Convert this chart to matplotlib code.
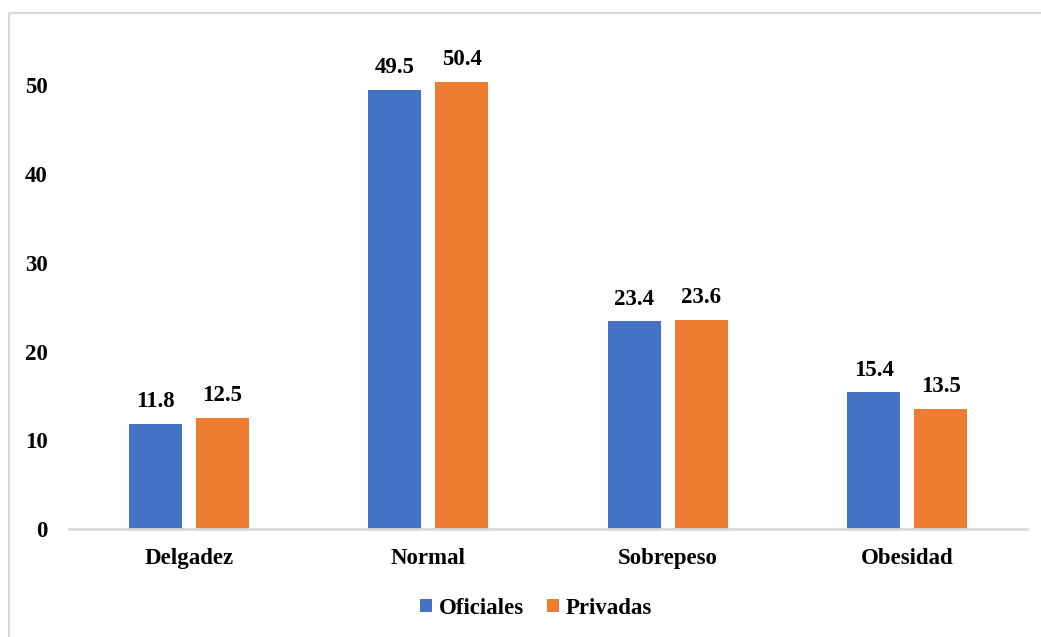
import matplotlib
matplotlib.use("Agg")
import matplotlib.pyplot as plt
from matplotlib.patches import Rectangle
import numpy as np

categories = ["Delgadez", "Normal", "Sobrepeso", "Obesidad"]
oficiales = [11.8, 49.5, 23.4, 15.4]
privadas = [12.5, 50.4, 23.6, 13.5]
yticks = [0, 10, 20, 30, 40, 50]

plt.rcParams['font.family'] = ['Liberation Serif', 'DejaVu Serif']
plt.rcParams['font.weight'] = 'bold'

W, H = 1041, 637
fig = plt.figure(figsize=(W / 100, H / 100), dpi=100)
fig.patch.set_facecolor('white')

# outer border (cropped on right and bottom)
fig.add_artist(Rectangle((8.5 / W, -0.01), 1.05, 1 - 12.5 / H + 0.01,
                         transform=fig.transFigure, fill=False,
                         edgecolor='#d9d9d9', linewidth=1.5))

ax = fig.add_axes([69 / W, (H - 529) / H, (1027 - 69) / W, (529 - 41) / H])
ax.set_xlim(-0.5, 3.5)
ax.set_ylim(0, 55)

x = np.arange(len(categories))
bw = 0.221
off = 0.1395
blue = '#4472C4'
orange = '#ED7D31'
b1 = ax.bar(x - off, oficiales, bw, color=blue, label='Oficiales')
b2 = ax.bar(x + off, privadas, bw, color=orange, label='Privadas')

for bars, vals in ((b1, oficiales), (b2, privadas)):
    for r, v in zip(bars, vals):
        ax.annotate(f"{v:.1f}", (r.get_x() + r.get_width() / 2, v),
                    xytext=(0, 8.5), textcoords='offset points',
                    ha='center', va='bottom', fontsize=16.5, fontweight='bold')

for s in ('top', 'right', 'left'):
    ax.spines[s].set_visible(False)
ax.spines['bottom'].set_color('#d9d9d9')
ax.spines['bottom'].set_linewidth(2)

ax.set_yticks(yticks)
ax.set_yticklabels([str(t) for t in yticks], fontsize=16.5, fontweight='bold')
ax.set_xticks(x)
ax.set_xticklabels(categories, fontsize=16.5, fontweight='bold')
ax.tick_params(axis='both', length=0)
ax.tick_params(axis='y', pad=15.5)
ax.tick_params(axis='x', pad=14)

leg = fig.legend(handles=[b1, b2], loc='center', bbox_to_anchor=(536 / W, (H - 608) / H),
                 ncol=2, frameon=False, fontsize=16.5, handlelength=0.52,
                 handleheight=0.52, handletextpad=0.3, columnspacing=1.0)
for t in leg.get_texts():
    t.set_fontweight('bold')

fig.savefig('out.png', dpi=100, facecolor='white')
